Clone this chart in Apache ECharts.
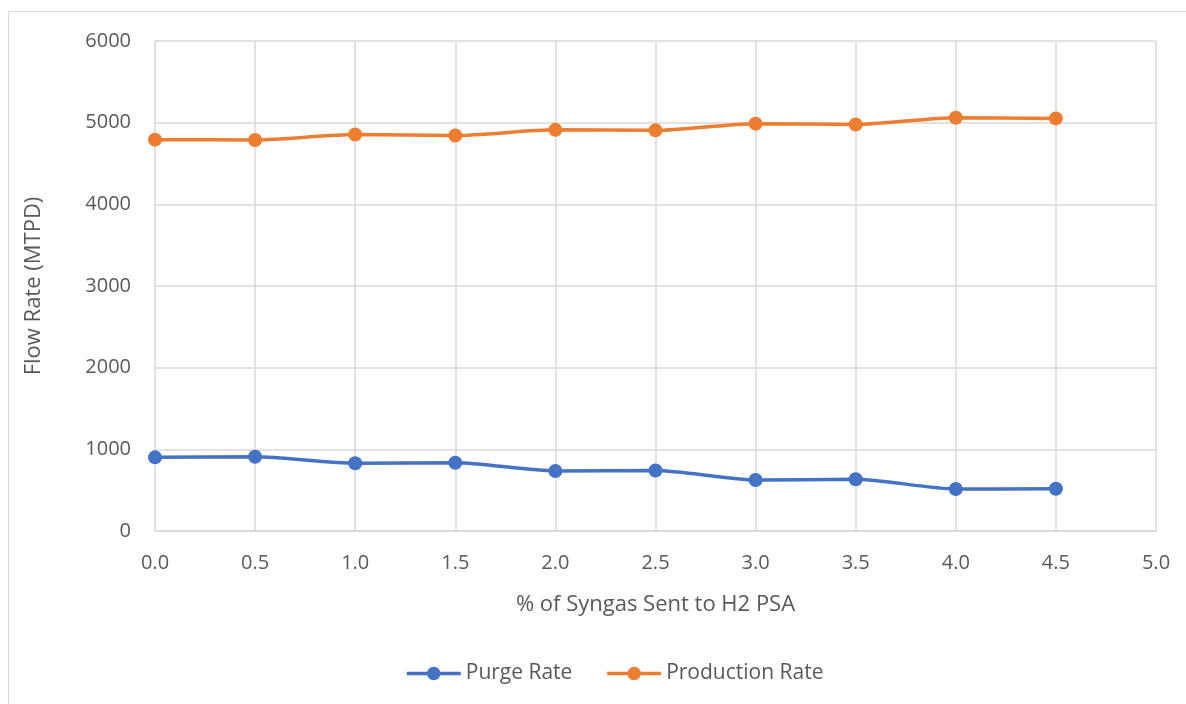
<!DOCTYPE html>
<html>
<head>
<meta charset="utf-8">
<style>
  html, body { margin: 0; padding: 0; background: #fff; }
  #chart { width: 1186px; height: 704px; }
</style>
<script src="https://cdn.jsdelivr.net/npm/echarts@6/dist/echarts.min.js"></script>
</head>
<body>
<div id="chart"></div>
<script>
// % of syngas sent to the H2 PSA unit
const syngasPct = [0.0, 0.5, 1.0, 1.5, 2.0, 2.5, 3.0, 3.5, 4.0, 4.5];
// Flow rates in MTPD
const purgeRate = [902, 910, 830, 836, 735, 740, 625, 633, 515, 517];
const productionRate = [4792, 4788, 4855, 4843, 4912, 4906, 4988, 4978, 5060, 5052];

const xTicks = { min: 0, max: 5, interval: 0.5 };
const yTicks = { min: 0, max: 6000, interval: 1000 };

const FONT = '"Open Sans", "DejaVu Sans", sans-serif';
const TEXT = '#595959';
const GRID = '#d9d9d9';

const pairs = (ys) => syngasPct.map((x, i) => [x, ys[i]]);

const chart = echarts.init(document.getElementById('chart'), null, { renderer: 'canvas' });
chart.setOption({
  backgroundColor: '#ffffff',
  animation: false,
  graphic: [{
    type: 'rect',
    shape: { x: 8.5, y: 11.5, width: 1300, height: 800 },
    style: { fill: 'none', stroke: GRID, lineWidth: 1 },
    silent: true
  }],
  grid: { left: 155, right: 30, top: 41, bottom: 173 },
  legend: {
    top: 658,
    left: 400,
    itemWidth: 54,
    itemHeight: 17,
    itemGap: 33,
    lineStyle: { width: 3.5 },
    textStyle: { fontFamily: FONT, fontSize: 21, color: TEXT },
    data: ['Purge Rate', 'Production Rate']
  },
  xAxis: {
    type: 'value',
    min: xTicks.min, max: xTicks.max, interval: xTicks.interval,
    name: '% of Syngas Sent to H2 PSA',
    nameLocation: 'middle',
    nameGap: 63,
    nameTextStyle: { fontFamily: FONT, fontSize: 22, color: TEXT },
    axisLine: { show: true, lineStyle: { color: GRID, width: 1.5 } },
    axisTick: { show: false },
    axisLabel: {
      margin: 22,
      fontFamily: FONT, fontSize: 20, color: TEXT,
      formatter: (v) => v.toFixed(1)
    },
    splitLine: { show: true, lineStyle: { color: GRID, width: 1.5 } }
  },
  yAxis: {
    type: 'value',
    min: yTicks.min, max: yTicks.max, interval: yTicks.interval,
    name: 'Flow Rate (MTPD)',
    nameLocation: 'middle',
    nameGap: 110,
    nameTextStyle: { fontFamily: FONT, fontSize: 22, color: TEXT },
    axisLine: { show: false },
    axisTick: { show: false },
    axisLabel: {
      margin: 24, fontFamily: FONT, fontSize: 20, color: TEXT,
      formatter: (v) => String(v)
    },
    splitLine: { show: true, lineStyle: { color: GRID, width: 1.5 } }
  },
  series: [
    {
      name: 'Purge Rate',
      type: 'line',
      data: pairs(purgeRate),
      smooth: 0.25,
      symbol: 'circle',
      symbolSize: 14,
      color: '#4472c4',
      lineStyle: { width: 3.5, color: '#4472c4' },
      itemStyle: { color: '#4472c4' }
    },
    {
      name: 'Production Rate',
      type: 'line',
      data: pairs(productionRate),
      smooth: 0.25,
      symbol: 'circle',
      symbolSize: 14,
      color: '#ed7d31',
      lineStyle: { width: 3.5, color: '#ed7d31' },
      itemStyle: { color: '#ed7d31' }
    }
  ]
});
</script>
</body>
</html>
